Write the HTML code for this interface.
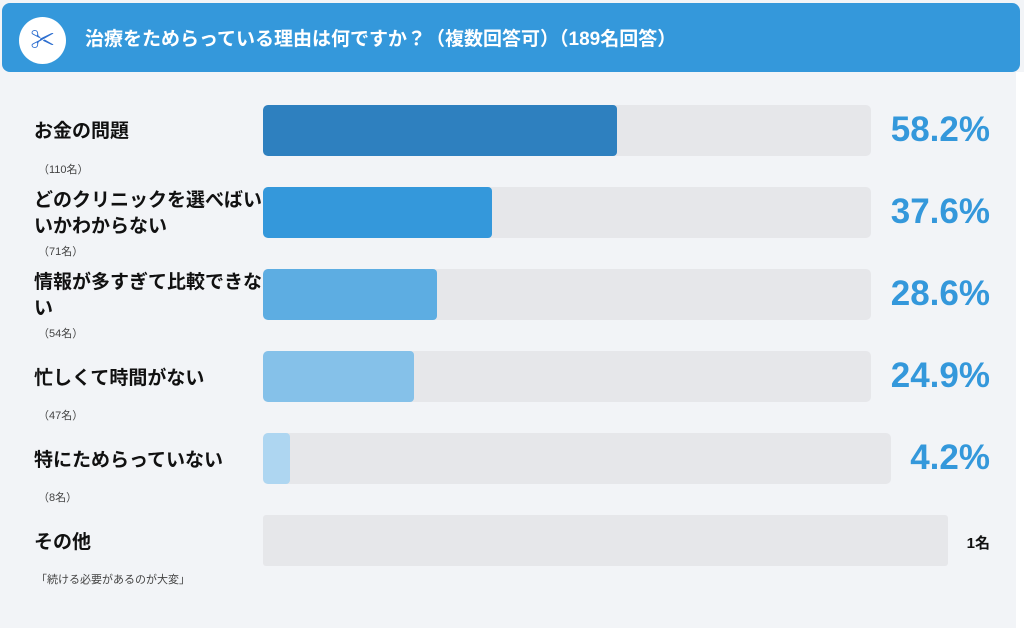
<!DOCTYPE html><html><head><meta charset="utf-8"><style>
body{margin:0;width:1024px;height:628px;background:#f2f4f7;font-family:"Liberation Sans","Noto Sans CJK JP",sans-serif;position:relative;overflow:hidden}
.hd{position:absolute;left:2px;top:3px;width:1018px;height:69px;background:#3498db;border-radius:8px}
.ic{position:absolute;left:17px;top:14px;width:47px;height:47px;border-radius:50%;background:#fff;color:#2e6fd0;font-size:24px;text-align:center;line-height:47px;font-weight:bold}
.ht{position:absolute;left:83px;top:24px;color:#fff;font-size:19px;font-weight:bold;line-height:26px}
.edge{position:absolute;left:1016px;top:72px;width:8px;height:556px;background:#fff}
.tr{position:absolute;left:263px;height:51px;background:#e6e7ea;border-radius:5px;overflow:hidden}
.f{position:absolute;left:0;top:0;height:100%;border-radius:4px}
.lb{position:absolute;left:34px;font-size:19px;font-weight:bold;color:#111;line-height:26px;width:232px}
.ct{position:absolute;left:38px;font-size:11px;color:#444}
.pc{position:absolute;right:34px;font-size:35px;font-weight:bold;color:#3498db}
</style></head><body>
<div class="hd"><div class="ic">✂</div><div class="ht">治療をためらっている理由は何ですか？（複数回答可）（189名回答）</div></div>
<div class="edge"></div>

<div class="tr" style="top:105px;width:608px"><div class="f" style="width:354px;background:#2e80bf"></div></div>
<div class="lb" style="top:119px">お金の問題</div><div class="ct" style="top:161px">（110名）</div>
<div class="pc" style="top:110px">58.2%</div>

<div class="tr" style="top:187px;width:608px"><div class="f" style="width:229px;background:#3498db"></div></div>
<div class="lb" style="top:188px">どのクリニックを選べばいいかわからない</div><div class="ct" style="top:243px">（71名）</div>
<div class="pc" style="top:192px">37.6%</div>

<div class="tr" style="top:269px;width:608px"><div class="f" style="width:174px;background:#5dade2"></div></div>
<div class="lb" style="top:270px">情報が多すぎて比較できない</div><div class="ct" style="top:325px">（54名）</div>
<div class="pc" style="top:274px">28.6%</div>

<div class="tr" style="top:351px;width:608px"><div class="f" style="width:151px;background:#85c1e9"></div></div>
<div class="lb" style="top:366px">忙しくて時間がない</div><div class="ct" style="top:407px">（47名）</div>
<div class="pc" style="top:356px">24.9%</div>

<div class="tr" style="top:433px;width:628px"><div class="f" style="width:27px;background:#aed6f1"></div></div>
<div class="lb" style="top:448px">特にためらっていない</div><div class="ct" style="top:489px">（8名）</div>
<div class="pc" style="top:438px">4.2%</div>

<div class="tr" style="top:515px;width:685px;border-radius:3px"></div>
<div class="lb" style="top:530px">その他</div><div class="ct" style="top:571px;left:36px">「続ける必要があるのが大変」</div>
<div style="position:absolute;right:34px;top:532px;font-size:15px;font-weight:bold;color:#111">1名</div>
</body></html>
